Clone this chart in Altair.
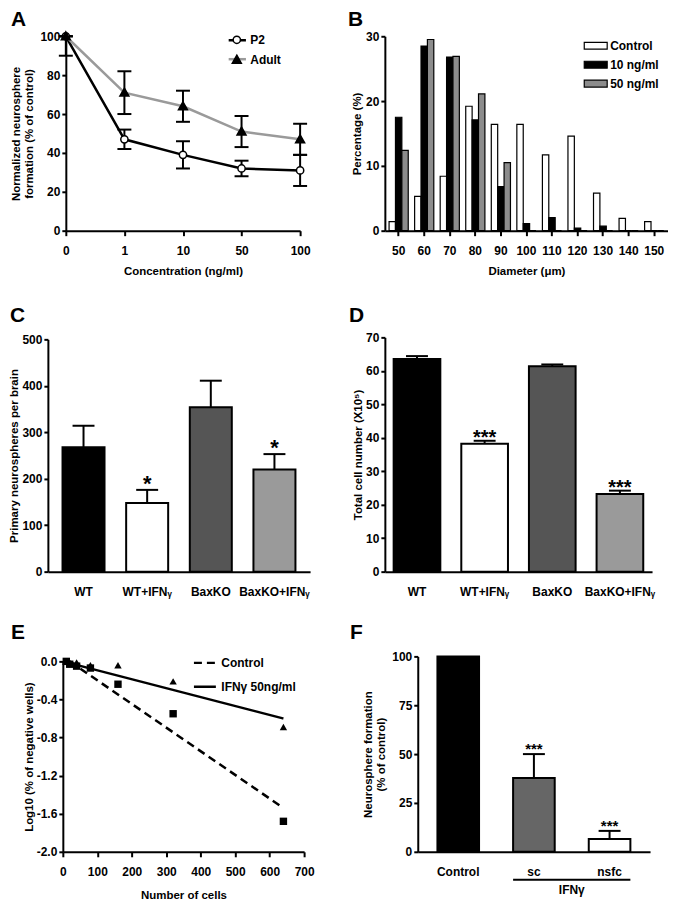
import altair as alt
import pandas as pd

FONT = "Liberation Sans"

# ---------------- Panel A ----------------
conc = ["0", "1", "10", "50", "100"]
series_a = ["P2", "Adult"]
p2_mean = [100, 47, 39, 32, 31]
p2_lo = [100, 42, 32, 28, 23]
p2_hi = [100, 52, 46, 36, 39]
adult_mean = [100, 71, 64, 51, 47]
adult_lo = [90, 60, 56, 43, 39]
adult_hi = [100, 82, 72, 59, 55]

# ---------------- Panel B ----------------
diameters = ["50", "60", "70", "80", "90", "100", "110", "120", "130", "140", "150"]
series_b = ["Control", "10 ng/ml", "50 ng/ml"]
control_pct = [1.4, 5.3, 8.4, 19.2, 16.4, 16.4, 11.7, 14.6, 5.8, 1.9, 1.4]
ng10_pct = [17.5, 28.5, 26.8, 17.1, 6.8, 1.1, 2.0, 0.4, 0.7, 0.0, 0.0]
ng50_pct = [12.4, 29.5, 26.9, 21.1, 10.5, 0.0, 0.0, 0.0, 0.0, 0.0, 0.0]

# ---------------- Panels C / D ----------------
groups = ["WT", "WT+IFNᵧ", "BaxKO", "BaxKO+IFNᵧ"]
group_colors = ["#000000", "#ffffff", "#555555", "#9a9a9a"]
primary_mean = [268, 148, 354, 220]
primary_top = [314, 176, 411, 253]
primary_sig = ["", "*", "", "*"]
cells_mean = [63.5, 38.2, 61.4, 23.2]
cells_top = [64.4, 39.1, 61.9, 24.2]
cells_sig = ["", "***", "", "***"]

# ---------------- Panel E ----------------
series_e = ["Control", "IFNγ 50ng/ml"]
marker_e = ["control", "ifn"]
n_cells = [10, 20, 40, 80, 160, 320, 640]
control_log = [0.0, -0.03, -0.05, -0.07, -0.24, -0.55, -1.68]
ifn_log = [0.0, -0.02, -0.01, -0.04, -0.04, -0.21, -0.69]
fit_n_control = [20, 640]
fit_control = [0.0, -1.54]
fit_n_ifn = [0, 640]
fit_ifn = [0.0, -0.60]

# ---------------- Panel F ----------------
f_groups = ["Control", "sc", "nsfc"]
f_colors = ["#000000", "#666666", "#ffffff"]
f_mean = [100, 37.8, 6.5]
f_top = [None, 50.0, 10.7]
f_sig = ["", "***", "***"]

# layout
W1, W2 = 263, 284
H1, H2, H3 = 195, 257, 196


def panel_label(letter, x, y):
    return alt.Chart(pd.DataFrame({"t": [letter]})).mark_text(
        align="left", baseline="middle", fontSize=21, fontWeight="bold", font=FONT
    ).encode(text="t:N", x=alt.value(x), y=alt.value(y))


lab_font = dict(labelFont=FONT, labelFontSize=12, labelFontWeight="bold", labelColor="black")

# ================= A =================
series_a_pts = [s + " " for s in series_a]  # distinct domain so legends are not merged
dfA = pd.DataFrame({
    "conc": conc * 2,
    "series": ["P2"] * 5 + ["Adult"] * 5,
    "mean": p2_mean + adult_mean,
    "lo": p2_lo + adult_lo,
    "hi": p2_hi + adult_hi,
})
dfA["series2"] = dfA["series"] + " "

xA = alt.X("conc:N", sort=conc,
           scale=alt.Scale(type="point", domain=conc, range=[18, 253], padding=0),
           axis=alt.Axis(title="Concentration  (ng/ml)", labelAngle=0, tickSize=5,
                         labelPadding=10, titlePadding=9))


def yA(f):
    return alt.Y(f"{f}:Q", scale=alt.Scale(domain=[0, 100], nice=False),
                 axis=alt.Axis(title=["Normalized neurosphere", "formation (% of control)"],
                               values=[0, 20, 40, 60, 80, 100], offset=-18, titlePadding=5))


legA_line = alt.Legend(orient="none", legendX=180, legendY=-6, title=None, symbolType="stroke",
                       symbolSize=300, symbolStrokeWidth=2.5, labelOpacity=0, rowPadding=3,
                       padding=0, **lab_font)
legA_pt = alt.Legend(orient="none", legendX=180, legendY=-6, title=None, symbolSize=300,
                     symbolStrokeColor="black", symbolStrokeWidth=1.5, rowPadding=3,
                     symbolOpacity=1, padding=0, **lab_font)
circle_path = "M -0.42 0 A 0.42 0.42 0 1 0 0.42 0 A 0.42 0.42 0 1 0 -0.42 0 Z"
tri_path = "M 0 -0.52 L 0.52 0.4 L -0.52 0.4 Z"

baseA = alt.Chart(dfA)
linesA = baseA.mark_line(strokeWidth=2.5).encode(
    x=xA, y=yA("mean"),
    color=alt.Color("series:N", scale=alt.Scale(domain=series_a, range=["#000000", "#9a9a9a"]),
                    legend=legA_line),
)
rulesA = baseA.mark_rule(color="black", strokeWidth=2).encode(x=xA, y=yA("lo"), y2="hi:Q")
capsLoA = baseA.mark_tick(color="black", thickness=2, size=14, opacity=1).encode(x=xA, y=yA("lo"))
capsHiA = baseA.mark_tick(color="black", thickness=2, size=14, opacity=1).encode(x=xA, y=yA("hi"))
pointsA = baseA.mark_point(filled=True, size=300, strokeWidth=1.5, opacity=1).encode(
    x=xA, y=yA("mean"),
    shape=alt.Shape("series2:N", scale=alt.Scale(domain=series_a_pts, range=[circle_path, tri_path]),
                    legend=legA_pt),
    fill=alt.Fill("series2:N", scale=alt.Scale(domain=series_a_pts, range=["#ffffff", "#000000"]),
                  legend=legA_pt),
    stroke=alt.Stroke("series2:N", scale=alt.Scale(domain=series_a_pts, range=["#000000", "#000000"]),
                      legend=legA_pt),
)
chartA = alt.layer(linesA, rulesA, capsLoA, capsHiA, pointsA, panel_label("A", -37, -16)).properties(
    width=W1, height=H1)

# ================= B =================
dfB = pd.DataFrame({
    "diam": diameters * 3,
    "series": [s for s in series_b for _ in diameters],
    "pct": control_pct + ng10_pct + ng50_pct,
})
legB = alt.Legend(orient="none", legendX=199, legendY=-3, title=None,
                  symbolType="M -1 -0.3 H 1 V 0.3 H -1 Z", symbolSize=529,
                  symbolStrokeColor="black", symbolStrokeWidth=1.2, rowPadding=0,
                  labelOffset=2, padding=0, **lab_font)
barsB = alt.Chart(dfB).mark_bar(stroke="black", strokeWidth=1.2).encode(
    x=alt.X("diam:N", sort=diameters,
            scale=alt.Scale(domain=diameters, paddingInner=0.25, paddingOuter=0.165),
            axis=alt.Axis(title="Diameter (μm)", labelAngle=0, tickSize=5, labelPadding=10,
                          titlePadding=9)),
    xOffset=alt.XOffset("series:N", sort=series_b,
                        scale=alt.Scale(domain=series_b, paddingInner=0, paddingOuter=0)),
    y=alt.Y("pct:Q", scale=alt.Scale(domain=[0, 30], nice=False),
            axis=alt.Axis(title="Percentage (%)", values=[0, 10, 20, 30], titlePadding=3)),
    fill=alt.Fill("series:N", scale=alt.Scale(domain=series_b, range=["#ffffff", "#000000", "#8c8c8c"]),
                  legend=legB),
)
chartB = alt.layer(barsB, panel_label("B", -37, -16)).properties(width=W2, height=H1)


# ================= C / D =================
def bar_panel(means, tops, sigs, ymax, ystep, ytitle, y_top_px, pin, pout, star_size, star_dy,
              letter, lab_xy, width, xrange=None):
    df = pd.DataFrame({"g": groups, "mean": means, "top": tops, "sig": sigs})
    sc = dict(domain=groups, paddingInner=pin, paddingOuter=pout)
    if xrange is not None:
        sc["range"] = xrange
    x = alt.X("g:N", sort=groups, scale=alt.Scale(**sc),
              axis=alt.Axis(title=None, labelAngle=0, ticks=False, tickSize=0, labelPadding=15))

    def y(f):
        return alt.Y(f"{f}:Q", scale=alt.Scale(domain=[0, ymax], range=[H2, y_top_px], nice=False),
                     axis=alt.Axis(title=ytitle, values=list(range(0, ymax + 1, ystep)), titlePadding=2))

    base = alt.Chart(df)
    err = base.mark_rule(color="black", strokeWidth=2).encode(x=x, y=y("mean"), y2="top:Q")
    cap = base.mark_tick(color="black", thickness=2, size=22, opacity=1).encode(x=x, y=y("top"))
    bars = base.mark_bar(stroke="black", strokeWidth=2).encode(
        x=x, y=y("mean"),
        fill=alt.Fill("g:N", scale=alt.Scale(domain=groups, range=group_colors), legend=None))
    stars = base.mark_text(fontSize=star_size, fontWeight="bold", baseline="alphabetic", dy=star_dy,
                           font=FONT).encode(x=x, y=y("top"), text="sig:N")
    return alt.layer(err, cap, bars, stars, panel_label(letter, *lab_xy)).properties(
        width=width, height=H2)


chartC = bar_panel(primary_mean, primary_top, primary_sig, 500, 100,
                   "Primary neurospheres per brain", 24, 0.34, 0.23, 22, 1, "C", (-38, 1), W1)
chartD = bar_panel(cells_mean, cells_top, cells_sig, 70, 10,
                   "Total cell number (X10⁵)", 22, 0.31, 0.13, 20, 3, "D", (-36, 1), W2,
                   xrange=[0, 268])

# ================= E =================
dfE = pd.DataFrame({
    "n": n_cells * 2,
    "v": control_log + ifn_log,
    "marker": [marker_e[0]] * len(n_cells) + [marker_e[1]] * len(n_cells),
})
dfEfit = pd.DataFrame({
    "n": fit_n_control + fit_n_ifn,
    "v": fit_control + fit_ifn,
    "series": [series_e[0]] * 2 + [series_e[1]] * 2,
})
xE = alt.X("n:Q", scale=alt.Scale(domain=[0, 700], range=[15, 257], nice=False),
           axis=alt.Axis(title="Number of cells", values=list(range(0, 701, 100)), tickSize=5,
                         labelPadding=10, titlePadding=12))
yE = alt.Y("v:Q", scale=alt.Scale(domain=[-2, 0], range=[H3, 5], nice=False),
           axis=alt.Axis(title="Log10 (% of negative wells)", values=[0, -0.4, -0.8, -1.2, -1.6, -2.0],
                         format=".1f", labelExpr="replace(datum.label, '−', '-')", offset=-15,
                         titlePadding=2))
legE = alt.Legend(orient="none", legendX=145, legendY=-6, title=None, symbolType="stroke",
                  symbolSize=484, symbolStrokeWidth=2.5, symbolStrokeColor="black", rowPadding=5,
                  padding=0, **lab_font)
linesE = alt.Chart(dfEfit).mark_line(color="black", strokeWidth=2.5).encode(
    x=xE, y=yE,
    strokeDash=alt.StrokeDash("series:N", scale=alt.Scale(domain=series_e, range=[[8, 5], [1, 0]]),
                              legend=legE),
)
pointsE = alt.Chart(dfE).mark_point(filled=True, color="black", size=55, opacity=1).encode(
    x=xE, y=yE,
    shape=alt.Shape("marker:N", scale=alt.Scale(domain=marker_e, range=["square", "triangle-up"]),
                    legend=None),
)
chartE = alt.layer(linesE, pointsE, panel_label("E", -37, -23)).properties(width=W1, height=H3)

# ================= F =================
dfF = pd.DataFrame({"g": f_groups, "mean": f_mean, "top": f_top, "sig": f_sig})
scF = alt.Scale(domain=f_groups, range=[33, 266], paddingInner=0.45, paddingOuter=0.26)
axF = alt.Axis(title=None, labelAngle=0, ticks=False, tickSize=0, labelPadding=15)


def xF(f, **kw):
    return alt.X(f"{f}:N", sort=f_groups, scale=scF, axis=axF, **kw)


def yF(f):
    return alt.Y(f"{f}:Q", scale=alt.Scale(domain=[0, 100], nice=False),
                 axis=alt.Axis(title=["Neurosphere  formation", "(% of control)"],
                               values=[0, 25, 50, 75, 100], offset=-33, titlePadding=5))


baseF = alt.Chart(dfF)
errF = baseF.mark_rule(color="black", strokeWidth=2).encode(x=xF("g"), y=yF("mean"), y2="top:Q")
capF = baseF.mark_tick(color="black", thickness=2, size=22, opacity=1).encode(x=xF("g"), y=yF("top"))
barsF = baseF.mark_bar(stroke="black", strokeWidth=2).encode(
    x=xF("g"), y=yF("mean"),
    fill=alt.Fill("g:N", scale=alt.Scale(domain=f_groups, range=f_colors), legend=None))
starsF = baseF.mark_text(fontSize=15, fontWeight="bold", baseline="alphabetic", dy=0, font=FONT).encode(
    x=xF("g"), y=yF("top"), text="sig:N")
underF = alt.Chart(pd.DataFrame({"a": ["sc"], "b": ["nsfc"]})).mark_rule(color="black", strokeWidth=2).encode(
    x=xF("a", bandPosition=0), x2=alt.X2("b:N", bandPosition=1), y=alt.value(H3 + 28))
ifnF = alt.Chart(pd.DataFrame({"c": ["sc"], "t": ["IFNγ"]})).mark_text(
    fontSize=12, fontWeight="bold", font=FONT, dx=38, baseline="middle").encode(
    x=xF("c"), y=alt.value(H3 + 38), text="t:N")
chartF = alt.layer(errF, capF, barsF, starsF, underF, ifnF, panel_label("F", -35, -23)).properties(
    width=W2, height=H3)

indep = dict(color="independent", fill="independent", shape="independent", stroke="independent",
             strokeDash="independent")

chart = alt.concat(chartA, chartB, chartC, chartD, chartE, chartF, columns=2,
                   spacing={"row": 85, "column": 75}, bounds="flush").resolve_scale(
    **indep).resolve_legend(**indep).properties(
    padding=0
).configure_view(stroke=None).configure_axis(
    domainColor="black", domainWidth=2, tickColor="black", tickWidth=2, tickSize=4,
    grid=False, labelFont=FONT, labelFontSize=12, labelFontWeight="bold", labelColor="black",
    labelPadding=2, labelFlush=False, labelOverlap=False,
    titleFont=FONT, titleFontSize=11.5, titleFontWeight="bold", titleColor="black"
).configure_legend(padding=0, labelFont=FONT, labelFontSize=12, labelFontWeight="bold",
                   labelColor="black").configure_text(font=FONT)

chart.save("out.html", embed_options={"renderer": "svg", "actions": False})
